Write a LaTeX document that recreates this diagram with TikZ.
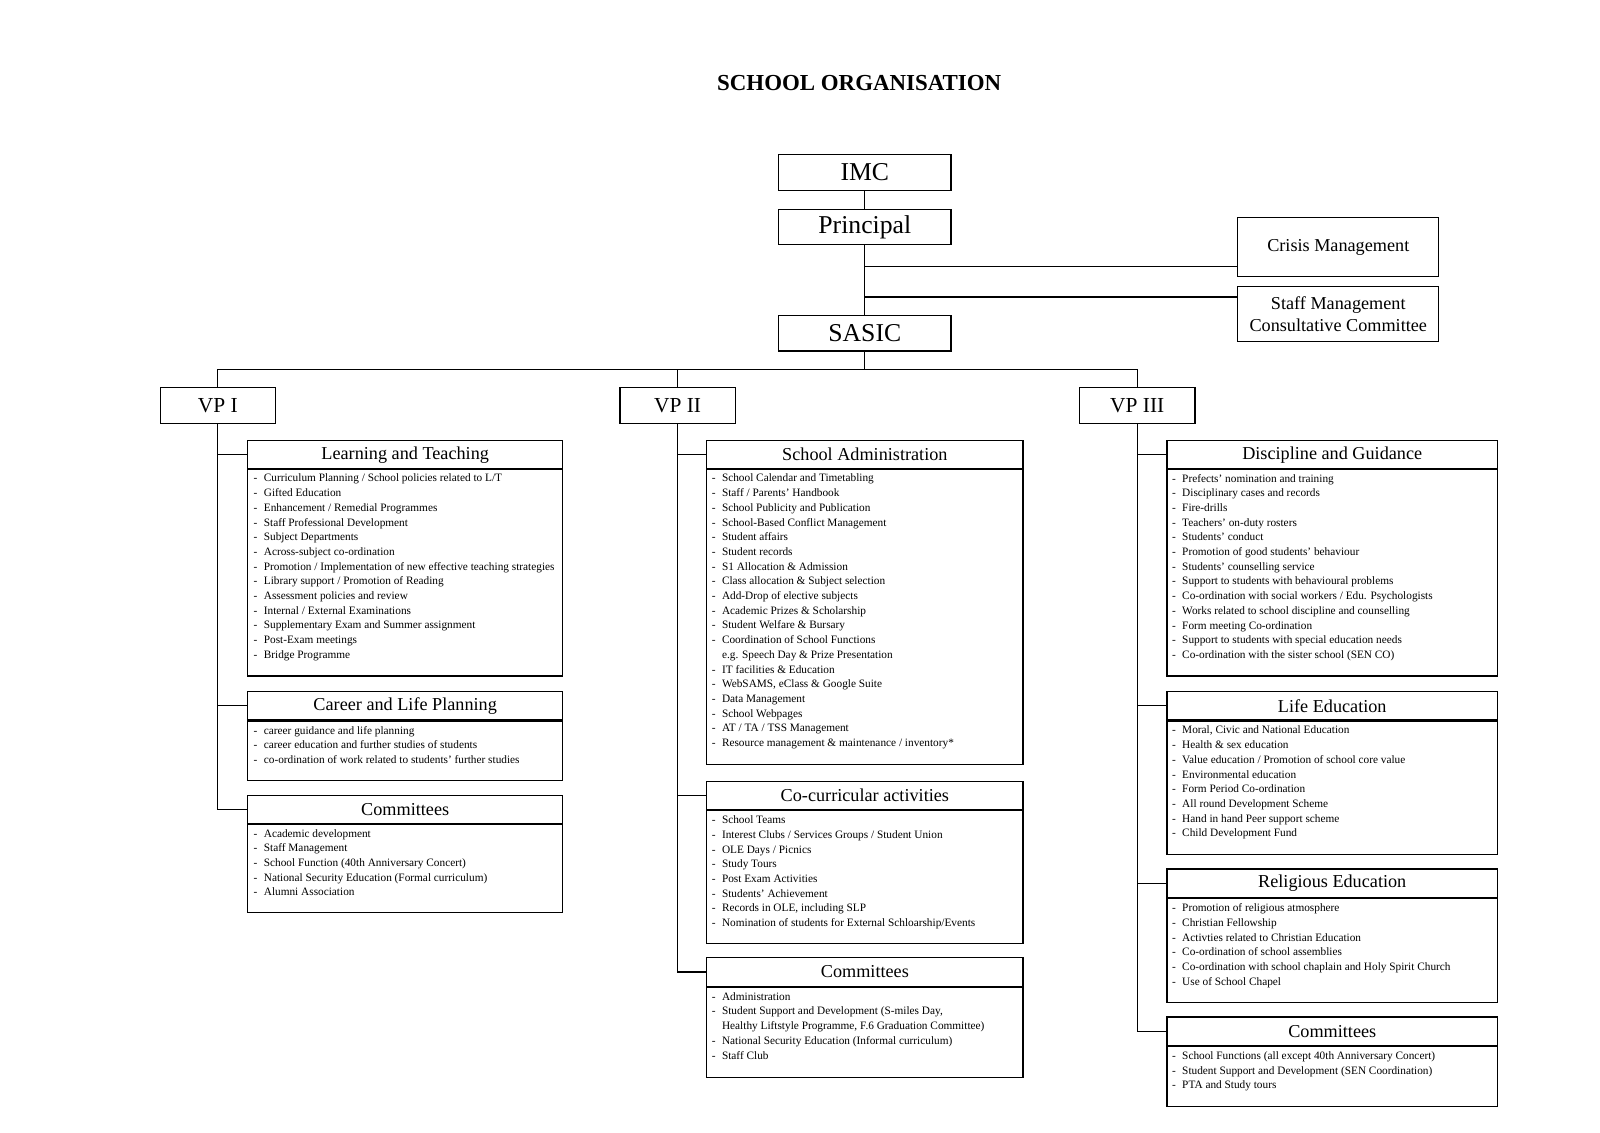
\documentclass[tikz,border=0pt]{standalone}
\usepackage{fontspec}
\setmainfont{Liberation Serif}
\usepackage{tikz}

\newcommand{\dashitem}[1]{\makebox[10.2pt][l]{-}#1}
\newcommand{\contline}[1]{\hspace*{10.2pt}#1}

\begin{document}
\begin{tikzpicture}[
		x=1.0204pt, y=-1.0204pt,
		line width=1.2pt,
		every node/.style={rectangle, inner sep=0pt},
		topbox/.style={draw, minimum width=172.5, minimum height=35.7, font=\fontsize{25.7}{28}\selectfont},
		vpbox/.style={draw, minimum width=115.3, minimum height=35.7, font=\fontsize{21.4}{24}\selectfont},
		sidebox/.style={draw, minimum width=201, align=center, font=\fontsize{18.2}{21.4}\selectfont},
		head/.style={draw, anchor=north west, minimum height=28.6, font=\fontsize{18.2}{21}\selectfont},
		body/.style={draw, anchor=north west},
		items/.style={anchor=north west, align=left, font=\fontsize{11.3}{14.7}\selectfont}
	]
  \useasboundingbox (0,0) rectangle (1568,1110.3);
  \node (title) [font=\bfseries\fontsize{22.9}{26}\selectfont] at (842,81) {SCHOOL ORGANISATION};

  \node (imc) [topbox] at (847.5,169) {IMC};
  \node (prin) [topbox] at (847.5,222.5) {Principal};
  \node (sasic) [topbox] at (847.5,326.5) {SASIC};
  \node (cm) [sidebox, minimum height=59.2] at (1311.5,242) {Crisis Management};
  \node (smcc) [sidebox, minimum height=55.1] at (1311.5,308) {Staff Management\\Consultative Committee};

  \node (vp_i) [vpbox] at (213.5,397.5) {VP I};
  \node (vp_ii) [vpbox] at (664,397.5) {VP II};
  \node (vp_iii) [vpbox] at (1114.5,397.5) {VP III};

  \coordinate (bus) at (847.5,362);
  \coordinate (j_cm) at (847.5,261);
  \coordinate (j_smcc) at (847.5,291);

  \draw (imc) -- (prin);
  \draw (prin) -- (sasic);
  \draw (sasic) -- (bus);
  \draw (j_cm) -- (j_cm -| cm.west);
  \draw (j_smcc) -- (j_smcc -| smcc.west);
  \draw (vp_i) |- (bus);
  \draw (vp_ii) |- (bus);
  \draw (vp_iii) |- (bus);

  \node (lt_head) [head, minimum width=315.3] at (242,431) {Learning and Teaching};
  \node (lt_body) [body, minimum width=315.3, minimum height=207.1] at (242,459) {};
  \node (lt_list) [items] at (248,464) {
    \dashitem{Curriculum Planning / School policies related to L/T}\\
    \dashitem{Gifted Education}\\
    \dashitem{Enhancement / Remedial Programmes}\\
    \dashitem{Staff Professional Development}\\
    \dashitem{Subject Departments}\\
    \dashitem{Across-subject co-ordination}\\
    \dashitem{Promotion / Implementation of new effective teaching strategies}\\
    \dashitem{Library support / Promotion of Reading}\\
    \dashitem{Assessment policies and review}\\
    \dashitem{Internal / External Examinations}\\
    \dashitem{Supplementary Exam and Summer assignment}\\
    \dashitem{Post-Exam meetings}\\
    \dashitem{Bridge Programme}};

  \node (clp_head) [head, minimum width=315.3] at (242,677) {Career and Life Planning};
  \node (clp_body) [body, minimum width=315.3, minimum height=59.2] at (242,706) {};
  \node (clp_list) [items] at (248,711) {
    \dashitem{career guidance and life planning}\\
    \dashitem{career education and further studies of students}\\
    \dashitem{co-ordination of work related to students' further studies}};

  \node (com_i_head) [head, minimum width=315.3] at (242,779) {Committees};
  \node (com_i_body) [body, minimum width=315.3, minimum height=88.8] at (242,807) {};
  \node (com_i_list) [items] at (248,812) {
    \dashitem{Academic development}\\
    \dashitem{Staff Management}\\
    \dashitem{School Function (40th Anniversary Concert)}\\
    \dashitem{National Security Education (Formal curriculum)}\\
    \dashitem{Alumni Association}};

  \node (sa_head) [head, minimum width=316.3] at (692,431) {School Administration};
  \node (sa_body) [body, minimum width=316.3, minimum height=295.9] at (692,459) {};
  \node (sa_list) [items] at (697,464) {
    \dashitem{School Calendar and Timetabling}\\
    \dashitem{Staff / Parents' Handbook}\\
    \dashitem{School Publicity and Publication}\\
    \dashitem{School-Based Conflict Management}\\
    \dashitem{Student affairs}\\
    \dashitem{Student records}\\
    \dashitem{S1 Allocation \& Admission}\\
    \dashitem{Class allocation \& Subject selection}\\
    \dashitem{Add-Drop of elective subjects}\\
    \dashitem{Academic Prizes \& Scholarship}\\
    \dashitem{Student Welfare \& Bursary}\\
    \dashitem{Coordination of School Functions}\\
    \contline{e.g. Speech Day \& Prize Presentation}\\
    \dashitem{IT facilities \& Education}\\
    \dashitem{WebSAMS, eClass \& Google Suite}\\
    \dashitem{Data Management}\\
    \dashitem{School Webpages}\\
    \dashitem{AT / TA / TSS Management}\\
    \dashitem{Resource management \& maintenance / inventory*}};

  \node (cca_head) [head, minimum width=316.3] at (692,765) {Co-curricular activities};
  \node (cca_body) [body, minimum width=316.3, minimum height=132.7] at (692,794) {};
  \node (cca_list) [items] at (697,799) {
    \dashitem{School Teams}\\
    \dashitem{Interest Clubs / Services Groups / Student Union}\\
    \dashitem{OLE Days / Picnics}\\
    \dashitem{Study Tours}\\
    \dashitem{Post Exam Activities}\\
    \dashitem{Students' Achievement}\\
    \dashitem{Records in OLE, including SLP}\\
    \dashitem{Nomination of students for External Schloarship/Events}};

  \node (com_ii_head) [head, minimum width=316.3] at (692,938) {Committees};
  \node (com_ii_body) [body, minimum width=316.3, minimum height=89.8] at (692,967) {};
  \node (com_ii_list) [items] at (697,972) {
    \dashitem{Administration}\\
    \dashitem{Student Support and Development (S-miles Day,}\\
    \contline{Healthy Liftstyle Programme, F.6 Graduation Committee)}\\
    \dashitem{National Security Education (Informal curriculum)}\\
    \dashitem{Staff Club}};

  \node (dg_head) [head, minimum width=330.6] at (1143,431) {Discipline and Guidance};
  \node (dg_body) [body, minimum width=330.6, minimum height=207.1] at (1143,459) {};
  \node (dg_list) [items] at (1148,464) {
    \dashitem{Prefects' nomination and training}\\
    \dashitem{Disciplinary cases and records}\\
    \dashitem{Fire-drills}\\
    \dashitem{Teachers' on-duty rosters}\\
    \dashitem{Students' conduct}\\
    \dashitem{Promotion of good students' behaviour}\\
    \dashitem{Students' counselling service}\\
    \dashitem{Support to students with behavioural problems}\\
    \dashitem{Co-ordination with social workers / Edu. Psychologists}\\
    \dashitem{Works related to school discipline and counselling}\\
    \dashitem{Form meeting Co-ordination}\\
    \dashitem{Support to students with special education needs}\\
    \dashitem{Co-ordination with the sister school (SEN CO)}};

  \node (le_head) [head, minimum width=330.6] at (1143,677) {Life Education};
  \node (le_body) [body, minimum width=330.6, minimum height=133.7] at (1143,706) {};
  \node (le_list) [items] at (1148,711) {
    \dashitem{Moral, Civic and National Education}\\
    \dashitem{Health \& sex education}\\
    \dashitem{Value education / Promotion of school core value}\\
    \dashitem{Environmental education}\\
    \dashitem{Form Period Co-ordination}\\
    \dashitem{All round Development Scheme}\\
    \dashitem{Hand in hand Peer support scheme}\\
    \dashitem{Child Development Fund}};

  \node (re_head) [head, minimum width=330.6] at (1143,851) {Religious Education};
  \node (re_body) [body, minimum width=330.6, minimum height=104.1] at (1143,880) {};
  \node (re_list) [items] at (1148,885) {
    \dashitem{Promotion of religious atmosphere}\\
    \dashitem{Christian Fellowship}\\
    \dashitem{Activties related to Christian Education}\\
    \dashitem{Co-ordination of school assemblies}\\
    \dashitem{Co-ordination with school chaplain and Holy Spirit Church}\\
    \dashitem{Use of School Chapel}};

  \node (com_iii_head) [head, minimum width=330.6] at (1143,996) {Committees};
  \node (com_iii_body) [body, minimum width=330.6, minimum height=60.2] at (1143,1025) {};
  \node (com_iii_list) [items] at (1148,1030) {
    \dashitem{School Functions (all except 40th Anniversary Concert)}\\
    \dashitem{Student Support and Development (SEN Coordination)}\\
    \dashitem{PTA and Study tours}};

  \draw (vp_i) |- (lt_head.west);
  \draw (vp_i) |- (clp_head.west);
  \draw (vp_i) |- (com_i_head.west);
  \draw (vp_ii) |- (sa_head.west);
  \draw (vp_ii) |- (cca_head.west);
  \draw (vp_ii) |- (com_ii_head.west);
  \draw (vp_iii) |- (dg_head.west);
  \draw (vp_iii) |- (le_head.west);
  \draw (vp_iii) |- (re_head.west);
  \draw (vp_iii) |- (com_iii_head.west);
\end{tikzpicture}
\end{document}
